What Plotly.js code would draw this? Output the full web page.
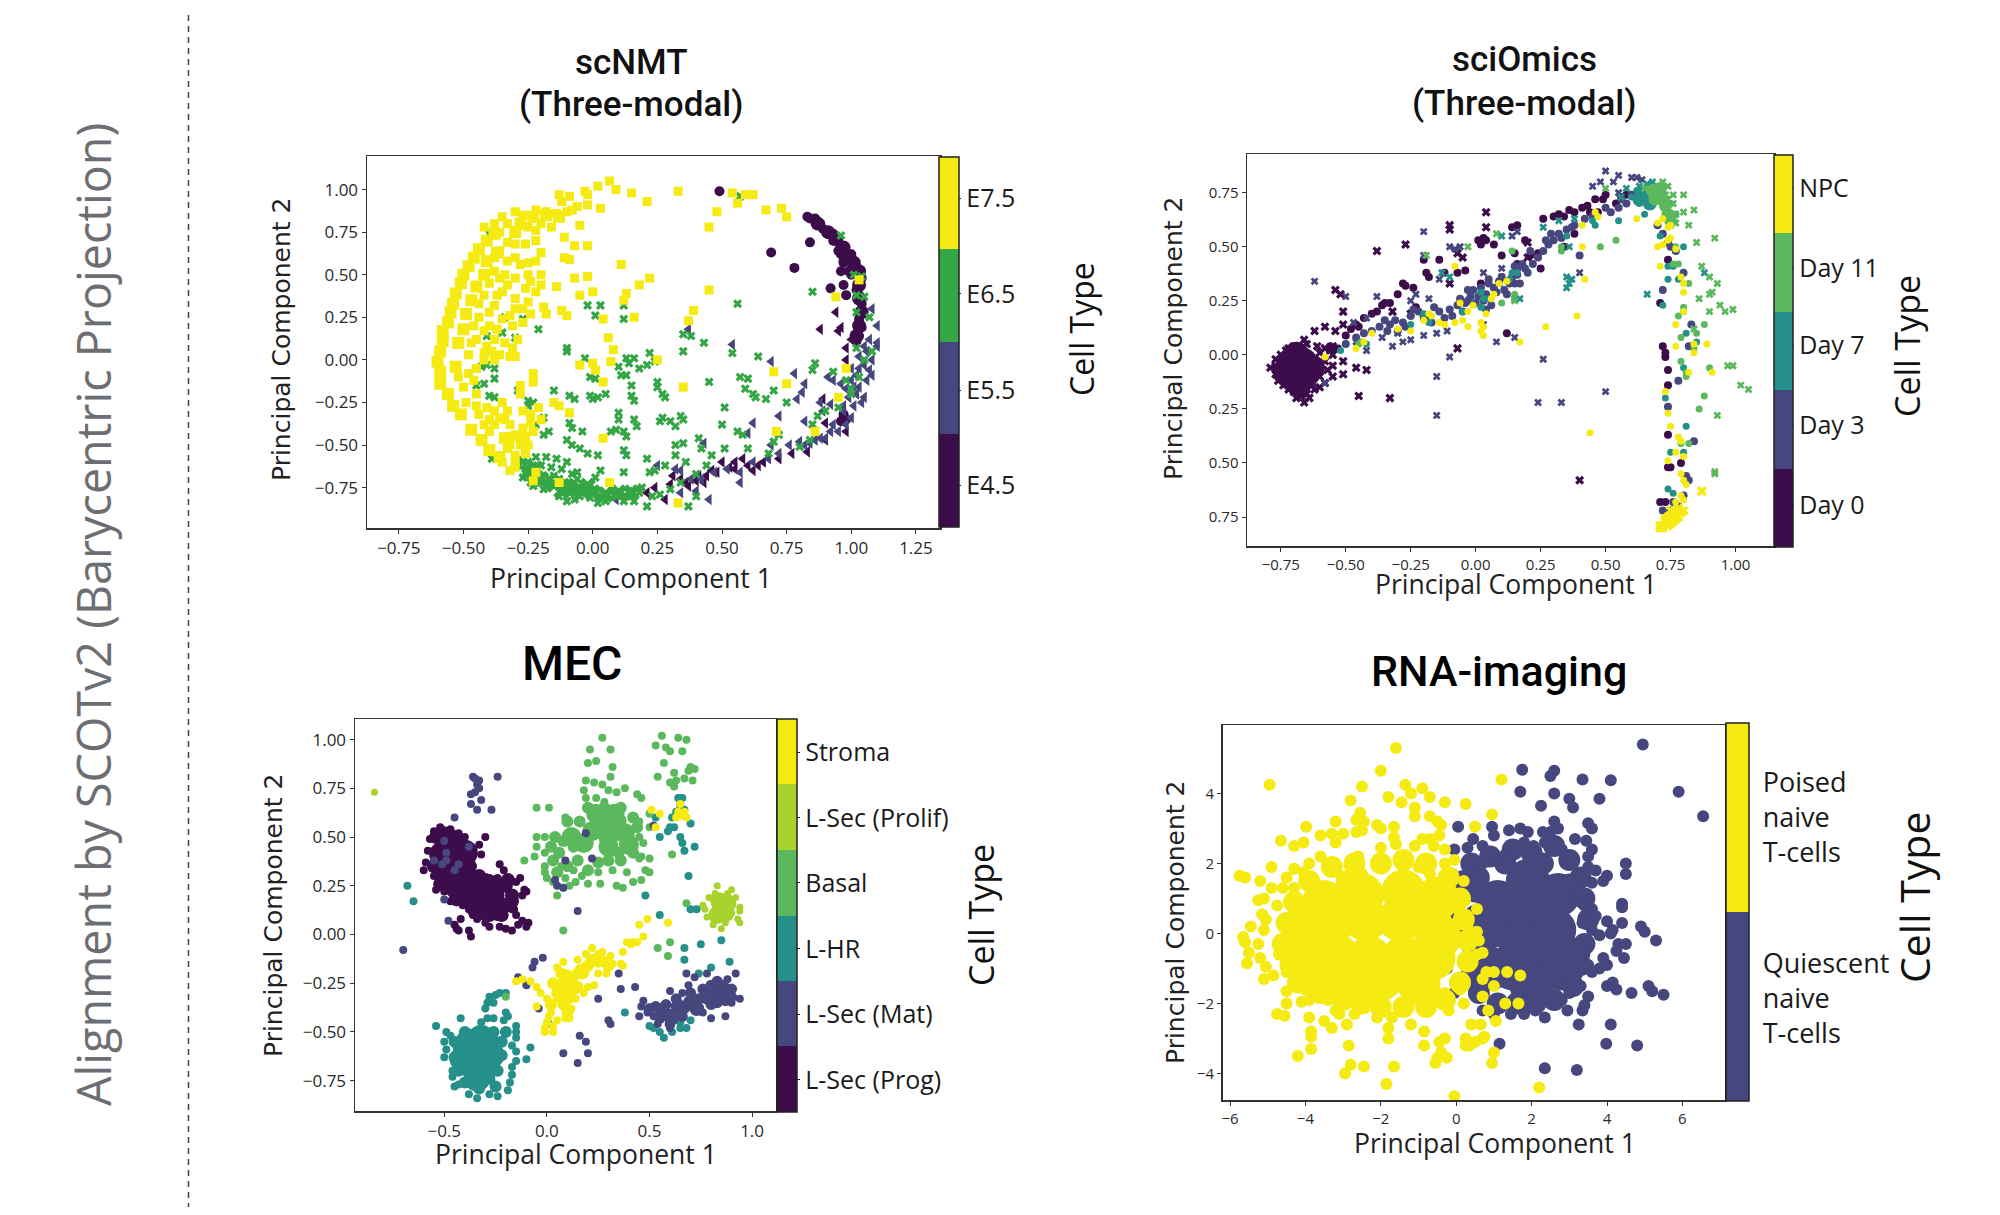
<!DOCTYPE html>
<html><head><meta charset="utf-8">
<script src="https://cdn.plot.ly/plotly-3.0.1.min.js"></script>
<style>html,body{margin:0;padding:0;background:#fff}</style></head>
<body><div id="chart" style="width:2000px;height:1215px"></div>
<script>
/* ---------- scNMT ---------- */
const nmtLabels = ["E4.5","E5.5","E6.5","E7.5"];
const nmtE75Dense = [[-.59,-.14],[-.59,-.07],[-.6,-.01],[-.59,.05],[-.58,.11],[-.58,.17],[-.56,.22],[-.55,.28],[-.54,.33],[-.53,.39],[-.51,.45],[-.5,.5],[-.48,.55],[-.46,.6],[-.44,.65],[-.41,.7],[-.38,.74],[-.52,.1],[-.5,.18],[-.49,.27],[-.47,.35],[-.45,.43],[-.42,.5],[-.41,.58],[-.37,.63],[-.53,-.04],[-.56,-.2],[-.54,-.27],[-.51,-.32],[-.47,-.41],[-.43,-.47],[-.4,-.53],[-.36,-.57],[-.34,-.46],[-.28,.8],[-.23,.84],[-.18,.85],[-.13,.84],[-.3,.75]];
const nmtE75 = [[.065,1.05],[.09,1],[.02,1.02],[-.03,.99],[.15,.98],[.33,.99],[.21,.93],[.03,.89],[-.02,.91],[-.08,.88],[-.09,.96],[-.12,.93],[-.05,.79],[-.11,.72],[-.07,.67],[-.02,.67],[-.11,.6],[-.09,.59],[.11,.56],[.54,.98],[.62,.97],[.59,.97],[.56,.92],[.48,.87],[.45,.78],[.67,.88],[.73,.89],[.75,.84],[.22,.48],[.18,.44],[.45,.41],[.39,.29],[.37,.23],[.13,.39],[.12,.35],[.16,.25],[.04,.24],[0,.4],[-.05,.38],[-.07,.48],[-.02,.49],[-.14,.43],[-.2,.44],[-.19,.31],[-.18,.27],[-.12,.29],[-.1,.26],[.06,.13],[.08,.06],[.07,-.01],[-.05,-.03],[0,-.02],[.01,-.06],[.04,-.13],[.25,0],[.35,-.16],[.7,-.07],[.75,-.14],[.98,-.05],[.95,-.22],[1.03,.47],[.94,.37],[.71,-.42],[.86,-.42],[.04,-.46],[-.09,-.31],[-.15,-.25],[-.13,-.27],[-.23,-.08],[-.23,-.13],[-.28,-.15],[-.28,-.2],[-.3,-.63],[-.22,-.66],[-.23,-.71],[-.13,-.72],[.065,-.72],[.33,-.84],[-.25,.57],[-.2,.63],[-.22,.58],[-.28,.56],[-.25,.5],[-.3,.6],[-.33,.58],[-.2,.5],[-.24,.46],[-.3,.48],[-.34,.5],[-.36,.48],[-.33,.44],[-.37,.38],[-.38,.32],[-.35,.4],[-.3,.36],[-.3,.3],[-.27,.3],[-.25,.34],[-.24,.27],[-.27,.22],[-.31,.2],[-.35,.24],[-.4,.28],[-.44,.25],[-.42,.17],[-.38,.12],[-.45,.12],[-.41,.08],[-.36,.03],[-.32,.02],[-.3,.02],[-.31,.07],[-.42,0],[-.48,-.08],[-.45,-.05],[-.38,.0],[-.42,.04],[-.5,-.16],[-.49,-.25],[-.45,-.27],[-.44,-.32],[-.41,-.28],[-.42,-.38],[-.35,-.25],[-.33,-.3],[-.32,-.38],[-.34,-.35],[-.27,-.3],[-.24,-.32],[-.24,-.37],[-.27,-.4],[-.3,-.44],[-.28,-.5],[-.32,-.5],[-.33,-.52],[-.3,-.56],[-.32,-.65],[-.42,.78],[-.38,.8],[-.35,.84],[-.3,.87],[-.27,.85],[-.22,.88],[-.18,.87],[-.14,.86],[-.1,.87],[-.06,.9],[-.02,.97],[-.13,.97],[-.36,.75],[-.33,.69],[-.38,.6],[-.36,.64],[-.3,.68],[-.4,.45],[-.38,.52],[-.42,.38],[-.44,.33],[-.46,.2],[-.47,.1],[-.48,.03],[-.46,-.12],[-.45,-.2],[-.52,-.1],[-.4,-.42],[-.38,-.38],[-.36,-.34],[-.38,-.3],[-.4,-.35],[-.31,-.45],[-.28,-.45],[-.35,-.6],[-.3,-.6],[-.4,.2],[-.37,.18],[-.34,.1],[-.39,.05],[-.25,.78],[-.22,.76],[-.2,.8],[-.16,.78],[-.33,.8],[-.26,.68],[-.22,.7],[-.26,.42],[-.22,.4],[-.32,.26],[-.29,.12],[-.26,-.45],[-.25,-.5],[-.26,-.55],[-.23,-.42],[-.2,-.35],[-.21,-.28]];
const nmtE65Dense = [[-.2,-.7],[-.15,-.73],[-.1,-.74],[-.05,-.76],[0,-.78],[.05,-.79],[.1,-.78],[.15,-.78],[-.25,-.66],[-.12,-.77],[-.02,-.74],[-.22,-.64]];
const nmtE65 = [[.57,.96],[-.4,.74],[.96,.73],[1.01,.5],[1.04,.49],[.85,.4],[1.02,.38],[1.05,.37],[.56,.33],[-.02,.32],[.03,.32],[.12,.32],[.01,.26],[.12,.24],[1.02,.28],[1.07,.25],[-.34,.25],[-.27,.24],[-.27,.22],[-.41,.14],[-.35,.16],[-.21,.18],[-.3,.13],[.35,.15],[.38,.14],[.43,.1],[.35,.05],[.54,.04],[.64,.02],[-.1,.07],[-.1,.05],[-.03,.01],[.22,.04],[.13,.01],[.16,.01],[.14,-.02],[.18,-.05],[.21,-.03],[.24,-.01],[.1,-.04],[-.41,-.03],[-.43,-.04],[-.38,-.05],[-.38,-.11],[-.42,-.14],[-.45,-.15],[-.4,-.21],[-.38,-.22],[-.29,-.18],[-.25,-.24],[-.23,-.25],[-.25,-.27],[-.15,-.18],[-.09,-.21],[-.07,-.23],[-.01,-.21],[0,-.23],[.02,-.22],[.05,-.2],[-.01,-.1],[.01,-.11],[.13,-.09],[.11,-.09],[.15,-.15],[.15,-.21],[.16,-.24],[.25,-.13],[.25,-.16],[.27,-.2],[.28,-.22],[.45,-.13],[.57,-.1],[.6,-.11],[.59,-.17],[.62,-.2],[.63,-.22],[.67,-.23],[.7,-.18],[.75,-.25],[.85,-.06],[.86,-.02],[.93,-.07],[1,-.17],[1,-.2],[.98,-.12],[1.03,-.1],[1.08,.05],[1.05,.0],[1.02,.07],[.95,-.28],[.9,-.3],[.87,-.33],[.85,-.38],[.51,-.28],[.5,-.38],[.56,-.42],[.58,-.44],[.35,-.35],[.34,-.33],[.27,-.34],[.26,-.36],[.3,-.36],[.32,-.39],[.1,-.31],[.1,-.35],[.16,-.35],[.17,-.39],[.09,-.41],[.12,-.42],[.07,-.42],[.13,-.45],[-.09,-.37],[-.08,-.4],[-.04,-.42],[-.17,-.42],[-.19,-.44],[-.22,-.38],[-.19,-.34],[.41,-.46],[.35,-.49],[.32,-.5],[.42,-.52],[.46,-.56],[.51,-.52],[.6,-.52],[.68,-.55],[.7,-.48],[.72,-.44],[.8,-.51],[.84,-.47],[-.37,-.56],[-.39,-.58],[-.1,-.47],[-.08,-.5],[-.05,-.52],[-.02,-.55],[.02,-.56],[.12,-.53],[.13,-.56],[.21,-.58],[.32,-.56],[.36,-.6],[.24,-.65],[.28,-.62],[.22,-.66],[.12,-.66],[.03,-.65],[.01,-.69],[-.06,-.66],[-.1,-.6],[-.14,-.58],[-.18,-.57],[-.22,-.57],[-.28,-.58],[-.26,-.64],[-.23,-.62],[-.2,-.62],[-.15,-.68],[-.27,-.69],[-.24,-.72],[-.2,-.72],[-.17,-.73],[-.15,-.74],[-.12,-.76],[-.11,-.72],[-.09,-.78],[-.07,-.76],[-.05,-.8],[-.04,-.75],[-.02,-.77],[-.01,-.81],[.01,-.76],[.03,-.8],[.05,-.79],[.05,-.83],[.08,-.77],[.09,-.8],[.11,-.78],[.12,-.83],[.14,-.77],[.15,-.8],[.17,-.76],[.18,-.78],[.21,-.86],[.23,-.8],[.26,-.79],[.3,-.76],[.37,-.86],[.4,-.8],[.34,-.72],[.4,-.67],[.44,-.62],[-.19,-.76],[-.23,-.74],[-.1,-.83],[-.06,-.7],[-.13,-.7],[-.09,-.72],[-.17,-.7],[-.29,-.62],[-.27,-.6],[-.25,-.6],[-.24,-.68],[-.16,-.63],[-.12,-.64],[-.08,-.67],[.19,-.75],[.16,-.83],[.02,-.84],[-.07,-.82],[-.13,-.8]];
const nmtE55 = [[.37,.18],[.54,.09],[.69,-.01],[.78,-.08],[1.08,.3],[1.1,.2],[1.1,.1],[1.07,.12],[1.1,.08],[1.06,.05],[1.03,.02],[1.08,.0],[1.05,-.03],[1.07,-.06],[1.03,-.05],[1.02,-.09],[1.08,-.09],[.91,-.1],[.93,-.12],[.96,-.14],[1,-.12],[1.01,-.16],[.98,-.17],[.99,-.22],[1.02,-.2],[1.05,-.22],[1.04,-.25],[1.01,-.27],[.97,-.27],[.92,-.26],[.88,-.25],[.82,-.14],[.81,-.19],[.79,-.23],[.89,-.3],[.93,-.38],[.98,-.38],[1,-.34],[.95,-.42],[.9,-.46],[.86,-.47],[.82,-.5],[.8,-.48],[.76,-.5],[.69,-.5],[.62,-.37],[.6,-.43],[.72,-.33],[.82,-.36],[.72,-.55],[.68,-.58],[.62,-.6],[.57,-.66],[.52,-.64],[.47,-.66],[.45,-.82],[.4,-.77],[.34,-.78],[.57,-.72],[.42,-.7],[.38,-.7],[.34,-.65],[.25,-.62],[.32,-.64],[.43,-.49],[.09,-.82],[.12,-.81],[.84,-.49],[.88,-.46],[.92,-.42],[.97,-.3],[1.0,-.05],[1.05,.08],[1.06,-.12],[1.03,-.16]];
const nmtE45Tri = [[.88,.18],[.95,.17],[.94,.28],[.96,.19],[.98,.07],[.98,.0],[1.0,.12],[.89,-.23],[.9,-.37],[.98,-.42],[.9,-.47],[.83,-.54],[.77,-.55],[.72,-.58],[.66,-.6],[.6,-.62],[.62,-.65],[.58,-.58],[.53,-.63],[.48,-.66],[.44,-.68],[.4,-.71],[.34,-.7],[.37,-.74],[.3,-.73],[.24,-.75],[.21,-.78],[.28,-.82],[.5,-.6],[.55,-.6],[.43,-.72],[.31,-.68],[.36,-.72],[.41,-.68],[.46,-.65],[.55,-.64],[.64,-.62]];
const nmtE45Mid = [[.87,.8],[.91,.75],[.94,.71],[.97,.66],[.99,.61],[1.01,.57],[1.03,.52],[1.03,.44],[1.03,.36],[1.04,.28],[1.03,.2],[1.02,.14]];
const nmtE45Dot = [[.49,.99],[.69,.63],[.84,.69],[.78,.54],[.92,.42],[.97,.44],[.96,.52],[.83,.84],[.84,.83],[.86,.83],[.88,.8],[.89,.77],[.91,.75],[.93,.74],[.93,.7],[.95,.69],[.96,.67],[.97,.66],[.96,.62],[.98,.63],[.99,.6],[.97,.58],[1,.57],[1.01,.55],[1.02,.54],[.99,.52],[1.03,.51],[1.04,.48],[1.03,.45],[1.02,.41],[1.03,.38],[1.04,.33],[1.04,.28],[1.03,.24],[1.04,.19],[1.03,.14],[1.02,.11],[.98,.38],[1.0,.5],[.97,.57],[.95,.64],[1,.62],[.97,-.32],[.96,-.36],[.98,-.35]];

/* ---------- sciOmics ---------- */
const sciLabels = ["Day 0","Day 3","Day 7","Day 11","NPC"];
const sciD0Dense = [[-.72,-.04],[-.7,-.09],[-.66,-.03],[-.65,-.09],[-.68,-.13],[-.63,-.06],[-.69,.0],[-.67,-.07],[-.73,-.08]];
const sciD0X = [[-.38,.48],[-.27,.51],[-.1,.6],[.04,.66],[.04,.59],[-.1,.58],[-.54,.3],[-.52,.28],[-.51,.2],[-.51,.14],[-.54,.11],[-.58,.13],[-.62,.11],[-.66,.07],[-.46,-.06],[-.42,-.07],[-.45,-.19],[-.33,-.2],[-.07,.03],[.4,-.58],[-.79,-.06],[-.77,-.02],[-.77,-.09],[-.75,.0],[-.76,-.12],[-.73,.02],[-.72,.03],[-.74,-.14],[-.72,-.16],[-.7,-.17],[-.69,-.2],[-.66,-.22],[-.67,-.19],[-.65,-.18],[-.64,-.2],[-.62,-.16],[-.6,-.15],[-.58,-.13],[-.55,-.1],[-.51,-.09],[-.51,-.03],[-.55,-.05],[-.58,-.03],[-.56,.02],[-.58,.03],[-.55,.04],[-.6,.01],[-.57,-.07],[-.63,-.13],[-.7,.04],[-.67,.03],[-.32,.2],[-.25,.19],[-.1,.33],[.2,.52],[.2,.45],[-.05,.45],[-.07,.47],[-.6,-.1],[-.61,.04],[-.65,.05],[-.75,-.1],[-.77,-.05],[-.71,-.14],[-.67,-.16],[-.55,.0]];
const sciD0Dot = [[.26,.63],[.16,.6],[.14,.59],[.38,.66],[.43,.69],[.32,.65],[.3,.64],[.03,.54],[.02,.51],[.07,.51],[.1,.46],[.19,.53],[-.04,.39],[-.19,.38],[-.27,.32],[-.28,.33],[-.35,.24],[-.33,.24],[-.4,.19],[-.46,.14],[-.48,.12],[-.5,.09],[-.56,.04],[-.55,.03],[-.53,.03],[.72,.04],[.73,.01],[.73,-.01],[.74,-.07],[.74,-.14],[.74,-.37],[.75,-.52],[.74,-.52],[.71,-.68],[.73,-.68],[.79,-.5],[.74,.44],[.71,.24],[.49,.72],[.46,.72],[.56,.73],[-.2,.44],[-.14,.44],[-.07,.38],[.12,.1],[.02,.33],[.21,.46],[.24,.47],[.25,.4],[.15,.47],[.16,.42],[-.2,.18],[-.23,.22],[.38,.56],[.34,.5],[.62,.72],[.47,.66],[-.45,.13],[-.43,.17],[-.38,.2],[-.36,.23],[-.3,.28],[-.24,.31],[-.18,.36],[-.12,.38],[.01,.53],[.04,.53],[.34,.64],[.36,.67],[.41,.68],[.44,.66],[.5,.74],[.54,.7],[.58,.74]];
const sciD3X = [[-.62,.34],[-.2,.57],[-.1,.5],[-.08,.49],[-.2,.46],[-.14,.35],[-.5,.27],[-.47,.15],[-.42,.17],[-.38,.27],[-.23,.28],[-.25,.25],[-.18,.26],[-.36,.08],[-.3,.1],[-.32,.04],[-.28,.06],[-.25,.07],[-.2,.09],[-.15,.1],[-.42,.02],[-.46,.06],[-.58,-.13],[-.11,.11],[-.1,-.01],[-.15,-.1],[.08,.06],[.15,.08],[.26,-.02],[.24,-.22],[.33,-.22],[.5,-.17],[-.15,-.28],[.03,.14],[-.06,.5],[.14,.55],[.16,.57],[.4,.38],[.1,.36],[.1,.4],[.09,.33],[.5,.85],[.48,.8],[.53,.8],[.55,.83],[.6,.82],[.62,.82],[.55,.75],[.45,.78],[.64,.81],[.02,.3],[.03,.38]];
const sciD3Dot = [[-.5,.05],[-.46,.08],[-.43,.1],[-.4,.11],[-.37,.13],[-.35,.16],[-.33,.14],[-.3,.11],[-.28,.15],[-.25,.18],[-.22,.2],[-.2,.17],[-.17,.15],[-.14,.2],[-.12,.17],[-.1,.21],[-.07,.23],[-.05,.2],[-.03,.25],[-.01,.3],[.01,.27],[.03,.25],[.04,.21],[.06,.23],[.07,.31],[.09,.34],[.11,.3],[.12,.28],[.14,.36],[.15,.33],[.17,.33],[.16,.37],[.18,.42],[.2,.38],[.22,.42],[.24,.45],[.26,.48],[.28,.51],[.3,.53],[.32,.56],[.35,.58],[.38,.6],[.15,.41],[.4,.46],[.55,.68],[.58,.7],[.6,.74],[.63,.71],[.45,.64],[.52,.66],[.7,.6],[.72,.56],[.74,.52],[.75,.5],[.77,.48],[.8,.38],[.72,.3],[.82,.04],[.83,.14],[.78,-.12],[.74,-.24],[.84,-.4],[.82,-.58],[.81,-.56],[.8,-.65],[.78,-.7],[.76,-.68],[.72,-.72],[.75,-.72],[-.03,.3],[-.04,.24],[.05,.33],[-.34,.11],[-.31,.16],[-.27,.13],[-.24,.21],[-.18,.18],[-.16,.22],[-.09,.18],[-.06,.26],[-.02,.27],[0,.24],[.02,.31],[.04,.28],[.05,.35],[.08,.29],[.1,.36],[.13,.33],[.16,.4],[.19,.4],[.21,.48],[.27,.53],[.29,.56],[.33,.54],[.37,.59],[.42,.63],[.5,.68],[.56,.72],[.62,.75],[.68,.76],[.64,.76]];
const sciD7Dense = [[.65,.74],[.67,.7],[.63,.72]];
const sciD7Dot = [[-.52,.02],[-.42,.05],[-.25,.14],[-.18,.15],[-.05,.2],[.02,.22],[.03,.26],[.13,.35],[.16,.38],[.35,.55],[.45,.62],[.46,.6],[.55,.62],[.63,.7],[.65,.72],[.68,.74],[.62,.76],[.7,.76],[.72,.73],[.75,.7],[.77,.65],[.67,.7],[.6,.73],[.65,.65],[.76,.41],[.74,.41],[.78,.35],[.74,.35],[.72,.23],[.8,.2],[.81,.1],[.85,.06],[.8,-.06],[.81,-.33],[.75,-.45],[.8,-.45],[.73,-.2],[.74,-.62],[.76,-.64],[.71,.55],[.8,.5],[.66,.75],[.64,.73],[.68,.71],[.7,.73],[.72,.76],[.66,.78],[.05,.26],[.02,.29],[-.2,.19],[.14,.38]];
const sciD7X = [[-.1,.36],[-.13,.38],[.15,.26],[.17,.26],[.35,.36],[.37,.35],[.36,.33],[.35,.31],[.63,.78],[.66,.79],[.68,.8],[.58,.77],[.66,.74],[.7,.78],[.66,.72],[.56,.73],[.38,.63],[.26,.59],[.32,.62],[.36,.5],[.88,.38],[.1,.55],[.66,.28]];
const sciD11Dense = [[.7,.75],[.72,.72],[.73,.69],[.74,.65],[.69,.72],[.71,.77],[.75,.62],[.68,.76]];
const sciD11X = [[.72,.8],[.74,.78],[.7,.78],[.68,.75],[.7,.72],[.72,.7],[.74,.72],[.76,.7],[.73,.66],[.75,.63],[.77,.65],[.77,.61],[.75,.6],[.8,.66],[.84,.67],[.8,.74],[.82,.6],[.71,.75],[.76,.74],[.73,.74],[.69,.77],[.92,.54],[.87,.41],[.85,.52],[.9,.36],[.93,.33],[.91,.29],[.9,.28],[.86,.26],[.94,.23],[.96,.2],[.99,.21],[.9,.2],[.84,.12],[.97,-.05],[.99,-.05],[1.02,-.14],[1.05,-.16],[.93,-.28],[.92,-.55],[.92,-.54],[.5,.77],[.15,.25],[-.19,.46],[-.03,.5],[.08,.56],[.65,.77]];
const sciD11Dot = [[-.44,.06],[-.45,.05],[.15,.28],[.1,.24],[.33,.48],[.33,.5],[.14,.48],[.48,.5],[.54,.53],[.77,.5],[.78,.42],[.82,.33],[.76,.42],[.8,.22],[.78,.18],[.88,.14],[.85,.1],[.79,.08],[.84,.03],[.79,-.03],[.9,-.06],[.81,-.1],[.88,-.19],[.86,-.25],[.79,-.41],[.82,-.41],[.81,-.08]];
const sciNpcX = [[.87,-.63],[.71,-.8],[.72,-.79],[.73,-.77],[.74,-.75],[.75,-.78],[.76,-.74],[.77,-.72],[.78,-.71],[.79,-.73],[.74,-.79],[.72,-.8],[.76,-.77],[.78,-.75],[.75,-.72],[.73,-.76],[.71,-.79],[.77,-.76],[.8,-.72],[.75,-.76],[.74,-.77]];
const sciNpcDot = [[-.58,-.01],[-.46,.03],[-.43,.06],[-.4,.1],[-.3,.12],[-.25,.11],[-.2,.16],[-.18,.19],[-.17,.18],[-.14,.15],[-.12,.14],[-.08,.15],[-.05,.16],[-.03,.13],[.02,.11],[.03,.13],[.02,.15],[.03,.09],[.17,.06],[.27,.13],[.39,.18],[.44,-.36],[-.08,.41],[-.06,.24],[-.03,.2],[-.01,.23],[.04,.19],[.09,.33],[.12,.34],[.06,.26],[.07,.28],[.42,.35],[.41,.5],[.41,.6],[.47,.64],[.46,.66],[.62,.63],[.7,.61],[.72,.63],[.74,.59],[.75,.6],[.74,.53],[.75,.54],[.77,.49],[.7,.5],[.72,.51],[.71,.41],[.79,.36],[.8,.33],[.8,.29],[.8,.2],[.77,.14],[.77,.04],[.84,.05],[.84,.01],[.89,.05],[.82,-.08],[.91,-.08],[.73,-.17],[.74,-.27],[.75,-.33],[.78,-.38],[.79,-.4],[.77,-.45],[.74,-.49],[.8,-.47],[.79,-.55],[.8,-.58],[.81,-.6],[.8,-.67],[.79,-.65],[.77,-.68]];

/* ---------- MEC ---------- */
const mecLabels = ["L-Sec (Prog)","L-Sec (Mat)","L-HR","Basal","L-Sec (Prolif)","Stroma"];
const mecProgDense = [[-.47,.46],[-.45,.38],[-.48,.33],[-.42,.31],[-.43,.24],[-.38,.22],[-.33,.2],[-.27,.2],[-.25,.14],[-.33,.14],[-.4,.42],[-.51,.41]];
const mecProgMid = [[-.54,.5],[-.5,.52],[-.45,.5],[-.42,.46],[-.54,.42],[-.55,.35],[-.5,.3],[-.52,.26],[-.47,.24],[-.44,.18],[-.38,.17],[-.4,.28],[-.36,.3],[-.33,.3],[-.3,.28],[-.25,.27],[-.2,.25],[-.17,.2],[-.2,.15],[-.22,.1],[-.28,.1],[-.33,.12],[-.19,.28],[-.38,.36],[-.25,.22],[-.29,.17],[-.17,.17]];
const mecProg = [[-.57,.49],[-.55,.53],[-.52,.55],[-.47,.54],[-.43,.52],[-.4,.5],[-.58,.43],[-.59,.37],[-.6,.33],[-.55,.3],[-.54,.23],[-.5,.22],[-.47,.17],[-.41,.15],[-.38,.13],[-.42,.08],[-.45,.05],[-.43,.02],[-.44,.03],[-.38,.02],[-.37,-.01],[-.34,.08],[-.3,.06],[-.28,.04],[-.23,.04],[-.2,.03],[-.17,.02],[-.14,.05],[-.1,.04],[-.09,.06],[-.12,.07],[-.15,.1],[-.17,.13],[-.21,.12],[-.24,.09],[-.12,.2],[-.11,.23],[-.1,.22],[-.13,.29],[-.15,.27],[-.21,.33],[-.23,.36],[-.24,.29],[-.28,.29],[-.32,.41],[-.33,.46],[-.3,.5],[-.36,.35],[-.16,.13],[-.3,.12],[-.36,.1]];
const mecMatDense = [[.83,-.3],[.87,-.29],[.78,-.32],[.7,-.35],[.64,-.37],[.56,-.39],[.6,-.42],[.73,-.38]];
const mecMatMid = [[.5,-.38],[.53,-.37],[.58,-.36],[.63,-.33],[.67,-.38],[.7,-.3],[.74,-.33],[.76,-.28],[.8,-.26],[.83,-.24],[.86,-.26],[.9,-.28],[.9,-.32],[.87,-.34],[.83,-.35],[.8,-.36],[.66,-.42],[.6,-.46],[.55,-.43]];
const mecMat = [[-.36,.81],[-.34,.77],[-.33,.79],[-.35,.8],[-.33,.75],[-.37,.72],[-.35,.73],[-.32,.69],[-.37,.67],[-.34,.64],[-.27,.64],[-.24,.81],[-.45,.6],[-.7,-.08],[-.48,.07],[-.5,.18],[-.51,.36],[-.55,.38],[-.49,.38],[-.49,.42],[-.5,.48],[-.43,.36],[-.45,.33],[-.38,.45],[.04,.28],[.05,.25],[.08,.24],[.09,.38],[.22,.39],[.19,.52],[.15,.12],[-.02,-.12],[-.06,-.14],[-.07,-.17],[-.14,-.22],[-.1,-.26],[-.04,-.38],[.1,-.38],[.25,-.33],[.35,-.2],[.36,-.28],[.43,-.27],[.3,-.44],[.31,-.46],[.16,-.52],[.19,-.55],[.08,-.61],[.2,-.61],[.15,-.66],[.45,-.42],[.47,-.34],[.46,-.37],[.49,-.4],[.52,-.42],[.54,-.46],[.6,-.48],[.62,-.44],[.6,-.29],[.66,-.3],[.69,-.26],[.68,-.2],[.72,-.22],[.78,-.2],[.76,-.4],[.8,-.43],[.87,-.42],[.92,-.2],[.94,-.33],[.9,-.35],[.88,-.23],[.52,.56]];
const mecHrDense = [[-.36,-.6],[-.31,-.63],[-.37,-.67],[-.33,-.7],[-.29,-.56],[-.32,-.53],[-.38,-.55],[-.27,-.62],[-.41,-.64],[-.34,-.74],[-.3,-.68]];
const mecHrMid = [[-.45,-.55],[-.45,-.63],[-.43,-.7],[-.4,-.76],[-.33,-.79],[-.28,-.74],[-.24,-.7],[-.22,-.62],[-.22,-.55],[-.26,-.5],[-.33,-.5],[-.4,-.5],[-.43,-.58],[-.2,-.5],[-.25,-.78],[-.4,-.62]];
const mecHr = [[-.68,.25],[-.65,.17],[-.2,-.3],[-.25,-.31],[-.23,-.3],[-.28,-.32],[-.29,-.35],[-.3,-.38],[-.26,-.35],[-.2,-.4],[-.19,-.42],[-.21,-.44],[-.26,-.43],[-.29,-.43],[-.32,-.45],[-.42,-.43],[-.54,-.47],[-.49,-.5],[-.47,-.52],[-.5,-.55],[-.49,-.59],[-.5,-.63],[-.46,-.7],[-.46,-.73],[-.45,-.78],[-.43,-.77],[-.38,-.82],[-.34,-.84],[-.28,-.82],[-.24,-.83],[-.19,-.8],[-.18,-.76],[-.17,-.72],[-.17,-.68],[-.15,-.65],[-.15,-.6],[-.1,-.64],[-.15,-.53],[-.15,-.5],[-.15,-.47],[-.17,-.57],[-.08,-.58],[.01,-.46],[.38,-.4],[.52,-.48],[.55,-.5],[.57,-.53],[.61,-.5],[.65,-.48],[.68,-.48],[.7,-.44],[.65,-.45],[.5,-.47],[.74,-.2],[.8,-.17],[.89,-.14],[.85,-.03],[.75,-.05],[.67,-.07],[.67,-.13],[.55,.1],[.48,.2],[.69,.3],[.55,.5],[.59,.53],[.6,.55],[.61,.6],[.53,.6],[.64,.7],[.66,.7],[.65,.66],[.63,.63],[.67,.64],[.7,.57],[.65,.5],[.66,.47],[.67,.43],[.72,.45],[.7,.13],[.73,.13],[.62,.55],[.65,.67]];
const mecBasalDense = [[.28,.57],[.34,.58],[.22,.53],[.38,.52],[.3,.5],[.3,.45],[.18,.47],[.12,.5],[.4,.46],[.24,.62],[.33,.62]];
const mecBasalMid = [[.02,.45],[.03,.38],[.05,.32],[.1,.35],[.15,.38],[.2,.33],[.25,.37],[.3,.38],[.36,.38],[.42,.42],[.35,.42],[.16,.58],[.2,.65],[.28,.65],[.36,.65],[.42,.6],[.44,.55],[.08,.48],[.04,.5],[.1,.58],[.13,.45],[.06,.42]];
const mecBasal = [[.27,1.01],[.21,.95],[.31,.95],[.24,.89],[.2,.88],[.32,.86],[.56,1.02],[.53,.97],[.58,.96],[.6,.94],[.64,1.01],[.68,1],[.66,.94],[.57,.88],[.7,.86],[.72,.85],[.69,.84],[.62,.83],[.54,.81],[.6,.78],[.63,.79],[.67,.8],[.71,.79],[.62,.76],[.31,.81],[.19,.79],[.23,.78],[.27,.77],[.3,.74],[.34,.73],[.38,.75],[.44,.72],[.46,.7],[.5,.62],[.18,.74],[.19,.7],[.24,.7],[.28,.68],[-.05,.65],[.01,.65],[.09,.6],[-.01,.5],[-.05,.5],[-.05,.45],[-.06,.4],[-.01,.42],[-.01,.35],[-.01,.32],[.0,.29],[.03,.27],[.09,.29],[.11,.25],[.14,.27],[.17,.3],[.2,.26],[.26,.26],[.34,.25],[.37,.24],[.42,.27],[.46,.28],[.48,.33],[.5,.32],[.45,.39],[.46,.4],[.5,.39],[.47,.47],[.5,.55],[.05,.2],[-.11,.38],[.08,.24],[.07,.35],[.13,.33],[.25,.32],[.32,.33],[.39,.32],[.45,.58],[.45,.5],[.54,-.07],[.59,-.11],[.6,-.04],[.68,.16],[.61,.41],[.08,.02],[-.2,-.32]];
const mecProlifDense = [[.85,.13],[.84,.17],[.87,.11],[.83,.1],[.88,.16]];
const mecProlif = [[-.84,.73],[.83,.25],[.9,.23],[.92,.19],[.94,.14],[.94,.12],[.93,.08],[.85,.03],[.81,.05],[.78,.09],[.77,.13],[.76,.15],[.79,.19],[.82,.21],[.88,.21],[.87,.06],[.94,.06],[.83,.09],[.9,.11]];
const mecStromaDense = [[.09,-.25],[.1,-.32],[.17,-.19],[.13,-.27]];
const mecStromaMid = [[.05,-.3],[.08,-.26],[.12,-.22],[.15,-.2],[.2,-.16],[.22,-.13],[.25,-.14],[.03,-.25],[.08,-.36],[.1,-.4],[.15,-.27],[.07,-.2],[.28,-.14],[.3,-.16],[.02,-.36]];
const mecStroma = [[-.15,-.24],[-.12,-.23],[-.08,-.24],[-.05,-.27],[-.03,-.3],[0,-.33],[.02,-.4],[-.05,-.37],[0,-.45],[.01,-.42],[.05,-.44],[.09,-.43],[.11,-.43],[.12,-.38],[.05,-.33],[.14,-.33],[.1,-.2],[.05,-.17],[.08,-.14],[.15,-.13],[.19,-.1],[.22,-.07],[.25,-.1],[.27,-.09],[.31,-.11],[.32,-.15],[.29,-.2],[.25,-.2],[.23,-.26],[.2,-.27],[.18,-.3],[.36,-.15],[.37,-.16],[.37,-.09],[.39,-.04],[.41,-.05],[.42,-.04],[.44,-.04],[.47,-.01],[.45,.05],[.49,.08],[.59,.06],[.55,.62],[.51,.64],[.53,.55],[.63,.6],[.64,.63],[.66,.61],[.67,.63],[.65,.67],[.68,.6],[-.01,-.48],[.03,-.47],[-.01,-.5],[.03,-.5]];

/* ---------- RNA-imaging ---------- */
const rnaLabels = ["Quiescent<br>naive<br>T-cells","Poised<br>naive<br>T-cells"];
const rnaQuiDense = [[1.6,.6],[1.7,-.3],[2.3,.9],[2.4,-.5],[1.5,-1],[1.9,1.5],[2.6,.1],[.9,.2],[1.1,.9],[2.8,-1],[2.7,1.1],[2,-1.5],[.9,-1]];
const rnaQuiMid = [[.4,2],[.9,2.2],[1.5,2.4],[2,2.3],[2.6,2.5],[3,2.1],[3.3,1.6],[3.4,1],[3.5,.4],[3.4,-.3],[3.3,-.9],[3.1,-1.5],[2.6,-1.9],[2.1,-2],[1.6,-2],[1.1,-2],[.6,-1.7],[.4,-1.2],[.5,.5],[.5,1.2],[.2,1.5],[.4,-.3],[1.3,2],[2.3,2],[3,1.4],[3,-.4],[.6,1.6]];
const rnaQui = [[4.95,5.4],[1.75,4.68],[2.6,4.65],[2.5,4.5],[3.35,4.4],[4.1,4.38],[1.7,4.05],[2.6,4],[5.9,4.05],[3,3.85],[3.8,3.85],[2.25,3.65],[3.1,3.6],[6.55,3.35],[2.6,3.2],[2.7,3],[3.5,3.15],[3.6,3],[.05,3.05],[.95,3.05],[1,2.8],[1.4,2.95],[1.7,3],[1.9,2.9],[2.3,2.9],[2.5,2.9],[3.15,2.7],[3.45,2.65],[.45,2.7],[1.8,2.6],[1.5,2.5],[.7,2.5],[1.3,2.25],[2.05,2.5],[2.35,2.6],[2.6,2.6],[2.8,2.4],[3.6,2.4],[3.5,2.2],[-.05,2.4],[.3,2.45],[.45,2.05],[.7,2],[1.1,2.1],[1.2,1.9],[2.9,2],[3.1,2.05],[3.5,1.9],[3.7,1.8],[4.5,2],[4.5,1.7],[4,1.65],[3.9,1.5],[3.6,1.45],[3.3,1.2],[3.05,1.4],[3,.8],[3.4,.8],[3.6,.7],[3.7,.5],[4.4,.85],[4.4,.75],[4.4,.3],[4,.35],[4.1,0],[4.15,.1],[4.9,.2],[5,.05],[5.3,-.2],[3.6,.1],[3.8,-.05],[3.35,.3],[3.5,-.3],[3.4,-.6],[4.3,-.3],[4.25,-.5],[4.5,-.3],[4.45,-.7],[3.9,-.7],[4,-.9],[3.8,-1],[3.6,-1.1],[3.5,-.9],[3.1,-1.2],[3.3,-1.5],[3,-1.7],[3.5,-1.8],[4,-1.5],[4.15,-1.4],[4.25,-1.6],[4.65,-1.7],[5.1,-1.5],[5.2,-1.65],[5.5,-1.75],[3.4,-2.05],[3.35,-2.2],[2.95,-2.2],[2.35,-2.4],[2.1,-2.2],[1.8,-2.3],[1.45,-2.3],[1,-2.3],[.7,-2.2],[2.5,-2],[2.8,-1.9],[3.25,-2.6],[4.1,-2.6],[1.15,-3.15],[3.98,-3.15],[4.8,-3.2],[2.35,-3.85],[3.2,-3.9],[-.1,1.7],[.15,.9],[-.1,.5],[.2,0],[-.4,-.5],[-.25,-1],[-.05,-1.7],[.1,-1.3]];
const rnaPoiDense = [[-3.3,.3],[-2.4,.4],[-1.5,.4],[-.7,.3],[-3.2,-.6],[-2.3,-.7],[-1.4,-.7],[-.6,-.7],[-2.5,1.1],[-1.4,1.2],[-2,-1.3],[-1,-1.4],[-3.5,.9],[-3.5,-1.1],[-3.9,.1],[-3.9,-.6],[-.5,1],[-.45,-.1],[-2.9,-1.4]];
const rnaPoiMid = [[-4.5,.3],[-4.6,-.3],[-4.4,-.9],[-4.2,-1.4],[-3.6,-1.7],[-3,-1.9],[-2.5,-2],[-2,-2.1],[-1.4,-2.1],[-.8,-2.1],[-.3,-1.9],[.1,-1.4],[.3,-.8],[.3,-.2],[.2,.4],[.1,1],[-.2,1.6],[-.8,2],[-1.4,2.1],[-2,2],[-2.7,2],[-3.3,1.9],[-3.9,1.5],[-4.3,.9],[-2.9,1.5],[-.7,-1.6]];
const rnaPoi = [[-1.6,5.3],[-2,4.65],[-4.95,4.25],[-2.5,4.2],[-1.35,4.25],[-.9,4.15],[1.2,4.4],[-1.2,4],[-1.8,3.9],[-.7,3.9],[-2.8,3.8],[-1.45,3.75],[-.3,3.75],[.25,3.7],[-1.1,3.6],[.95,3.4],[-2.55,3.45],[-1.1,3.35],[-.7,3.35],[-2.65,3.25],[-2.45,3.2],[-3.2,3.2],[-.5,3.2],[-.4,3.1],[-3.98,3.05],[-2.1,3.1],[-2,3],[-1.65,3.05],[.5,3.05],[-2.65,2.9],[-2.5,2.95],[-3.3,2.85],[-3.6,2.8],[-3,2.85],[-3.2,2.6],[-1.65,2.75],[-1.6,2.55],[-.45,2.8],[-.9,2.7],[-.7,2.7],[-1.1,2.5],[-.6,2.5],[-.3,2.4],[-4.65,2.65],[-4.05,2.6],[-4.3,2.5],[-2,2.45],[-2.6,2.2],[-2.8,2],[-3.6,2.2],[-3.9,2],[-3.2,1.8],[-4.05,1.75],[-.3,2],[-.05,2.1],[-.2,1.5],[-5.75,1.65],[-5.6,1.6],[-4.9,1.9],[-5.2,1.5],[-4.5,1.6],[-4.3,1.85],[-4.9,1.3],[-4.6,1.3],[-5.25,.95],[-5.1,1],[-4.75,.8],[-4.3,1.3],[-5.15,.55],[-5.05,.4],[-5.45,.2],[-5.1,.1],[-5.65,-.1],[-5.6,-.25],[-5.25,-.3],[-5.5,-.55],[-5.55,-.85],[-5.2,-.7],[-4.7,-.6],[-5.05,-.95],[-5.1,-1.3],[-4.85,-1.2],[-4.5,-1.1],[-4.5,-1.65],[-4.5,-2],[-4.75,-2.3],[-4.55,-2.35],[-4.1,-1.95],[-3.9,-1.9],[-3.9,-2.4],[-3.85,-2.8],[-3.85,-2.95],[-3.85,-3.3],[-4.2,-3.5],[-3.5,-2.5],[-3.3,-2.7],[-3.1,-2.3],[-2.9,-2.6],[-2.7,-2.3],[-2.25,-1.9],[-2.1,-2.4],[-1.8,-2.7],[-1.8,-3],[-1.7,-2.4],[-1.2,-2.6],[-.85,-2.8],[-.85,-3.2],[-.45,-3.1],[-.3,-3],[-.4,-3.4],[-.5,-3.55],[-.25,-3.55],[-.55,-3.7],[-2.85,-3.2],[-2.8,-3.75],[-2.45,-3.8],[-1.65,-3.8],[-2.95,-4],[-1.85,-4.3],[-.05,-4.65],[2.2,-4.4],[.95,-3.7],[1,-3.4],[.25,-3],[.35,-3.2],[.5,-3.1],[.7,-3],[.75,-2.95],[.25,-3.2],[.65,-2.6],[1.05,-2.5],[.85,-2.2],[1.3,-2],[1.35,-1.1],[1,-1.1],[.8,-1.1],[.7,-1.3],[1,-1.5],[.7,-1.8],[.2,-2],[.1,-1.6],[-.2,-2.2],[.4,-2.6],[.55,-.6],[.6,-.2],[.55,.05],[.3,.2],[.1,.6],[.55,.7],[-.1,1],[.2,1.5],[-.2,.3],[-.1,-.1],[-.3,-.9],[-.3,-1.7],[-4.3,-.2],[-4.3,.5],[-4,-1.6],[-3.4,-1.9],[-3.2,-2.2],[-1,-1.9],[-.5,-1.8],[-2.5,1.7],[-1.9,1.9],[-1.4,2],[-1,1.9],[-.7,1.7],[-3,1.5],[-.4,1],[.7,-.55],[1.7,-1.2],[1.65,-2]];

/* ---------- text ---------- */
const sideTitle = "Alignment by SCOTv2 (Barycentric Projection)";
const panelTitles = ["scNMT","(Three-modal)","sciOmics","(Three-modal)","MEC","RNA-imaging"];
const xName = "Principal Component 1", yName = "Principal Component 2", cbName = "Cell Type";

const cPurple="#3d0d4b", cSlate="#47477f", cTeal="#25908a", cGreen="#35a645", cLime="#5cb85c", cOlive="#a8d22c", cYellow="#f5eb12";
const W=2000,H=1215;
const px=v=>v/W, py=v=>1-v/H;
const xs=a=>a.map(p=>p[0]), ys=a=>a.map(p=>p[1]);
function pts(data,sub,color,symbol,size,name){
  return {type:"scatter",mode:"markers",x:xs(data),y:ys(data),xaxis:"x"+sub,yaxis:"y"+sub,name:name,showlegend:false,hoverinfo:"skip",
    marker:{color:color,symbol:symbol,size:size,line:{width:0}}};
}
function steps(cols){const s=[];cols.forEach((c,i)=>{s.push([i/cols.length,c]);s.push([(i+1)/cols.length,c]);});return s;}
function cbar(sub,cols,tv,labels,box,fs,ticklen,tickcol){
  return {type:"scatter",mode:"markers",x:[null],y:[null],xaxis:"x"+sub,yaxis:"y"+sub,showlegend:false,hoverinfo:"skip",
    marker:{color:[0],cmin:0,cmax:cols.length,colorscale:steps(cols),showscale:true,
      colorbar:{x:px(box[0]),xanchor:"left",y:py(box[3]),yanchor:"bottom",len:(box[3]-box[2])/H,lenmode:"fraction",
        thickness:box[1]-box[0],thicknessmode:"pixels",xpad:0,ypad:0,outlinewidth:1.5,outlinecolor:"#222",
        tickmode:"array",tickvals:tv,ticktext:labels,ticks:"outside",ticklen:ticklen,tickwidth:1,tickcolor:tickcol,
        tickfont:{family:"Open Sans",size:fs,color:"#1a1a1a"}}}};
}
const traces=[
 pts(nmtE45Mid,"",cPurple,"circle",14,"E4.5"),
 pts(nmtE45Dot,"",cPurple,"circle",10,"E4.5"),
 pts(nmtE45Tri,"",cPurple,"triangle-left",10,"E4.5"),
 pts(nmtE55,"",cSlate,"triangle-left",10,"E5.5"),
 pts(nmtE65Dense,"",cGreen,"x",15,"E6.5"),
 pts(nmtE65,"",cGreen,"x",8,"E6.5"),
 pts(nmtE75Dense,"",cYellow,"square",12,"E7.5"),
 pts(nmtE75,"",cYellow,"square",9,"E7.5"),
 cbar("",[cPurple,cSlate,cGreen,cYellow],[.45,1.48,2.52,3.55],nmtLabels,[939,959,157,527],25,2,"#222"),

 pts(sciD0Dense,"2",cPurple,"circle",26,"Day 0"),
 pts(sciD0X,"2",cPurple,"x",8,"Day 0"),
 pts(sciD0Dot,"2",cPurple,"circle",8,"Day 0"),
 pts(sciD3X,"2",cSlate,"x",7,"Day 3"),
 pts(sciD3Dot,"2",cSlate,"circle",8,"Day 3"),
 pts(sciD7Dense,"2",cTeal,"circle",14,"Day 7"),
 pts(sciD7X,"2",cTeal,"x",7,"Day 7"),
 pts(sciD7Dot,"2",cTeal,"circle",7,"Day 7"),
 pts(sciD11Dense,"2",cLime,"circle",13,"Day 11"),
 pts(sciD11X,"2",cLime,"x",7,"Day 11"),
 pts(sciD11Dot,"2",cLime,"circle",7,"Day 11"),
 pts(sciNpcDot,"2",cYellow,"circle",7,"NPC"),
 pts(sciNpcX,"2",cYellow,"x",9,"NPC"),
 cbar("2",[cPurple,cSlate,cTeal,cLime,cYellow],[.53,1.55,2.57,3.55,4.57],sciLabels,[1774,1793,155,547],25,1,"#222"),

 pts(mecProgDense,"3",cPurple,"circle",26,"L-Sec (Prog)"),
 pts(mecProgMid,"3",cPurple,"circle",14,"L-Sec (Prog)"),
 pts(mecProg,"3",cPurple,"circle",8,"L-Sec (Prog)"),
 pts(mecHrDense,"3",cTeal,"circle",26,"L-HR"),
 pts(mecHrMid,"3",cTeal,"circle",12,"L-HR"),
 pts(mecHr,"3",cTeal,"circle",8,"L-HR"),
 pts(mecBasalDense,"3",cLime,"circle",20,"Basal"),
 pts(mecBasalMid,"3",cLime,"circle",12,"Basal"),
 pts(mecBasal,"3",cLime,"circle",8,"Basal"),
 pts(mecMatDense,"3",cSlate,"circle",15,"L-Sec (Mat)"),
 pts(mecMatMid,"3",cSlate,"circle",11,"L-Sec (Mat)"),
 pts(mecMat,"3",cSlate,"circle",8,"L-Sec (Mat)"),
 pts(mecProlifDense,"3",cOlive,"circle",18,"L-Sec (Prolif)"),
 pts(mecProlif,"3",cOlive,"circle",7,"L-Sec (Prolif)"),
 pts(mecStromaDense,"3",cYellow,"circle",16,"Stroma"),
 pts(mecStromaMid,"3",cYellow,"circle",12,"Stroma"),
 pts(mecStroma,"3",cYellow,"circle",8,"Stroma"),
 cbar("3",[cPurple,cSlate,cTeal,cLime,cOlive,cYellow],[.49,1.49,2.49,3.5,4.49,5.49],mecLabels,[777,797,719,1112],25,3,"#222"),

 pts(rnaQuiDense,"4",cSlate,"circle",44,"Quiescent naive T-cells"),
 pts(rnaQuiMid,"4",cSlate,"circle",22,"Quiescent naive T-cells"),
 pts(rnaQui,"4",cSlate,"circle",12,"Quiescent naive T-cells"),
 pts(rnaPoiDense,"4",cYellow,"circle",44,"Poised naive T-cells"),
 pts(rnaPoiMid,"4",cYellow,"circle",22,"Poised naive T-cells"),
 pts(rnaPoi,"4",cYellow,"circle",12,"Poised naive T-cells"),
 cbar("4",[cSlate,cYellow],[.54,1.5],rnaLabels,[1726,1749,723,1101],27,8,"rgba(0,0,0,0)")
];
const tf=s=>({family:"Open Sans",size:s,color:"#2a2a2a"});
function ax(dom,range,tv,tt,anchor,fs){
  return {domain:dom,range:range,tickmode:"array",tickvals:tv,ticktext:tt,ticks:"outside",ticklen:4,tickwidth:1,tickcolor:"#333",
    showgrid:false,zeroline:false,showline:true,linewidth:1.5,linecolor:"#333",mirror:true,anchor:anchor,tickfont:tf(fs)};
}
function note(t,x,y,fam,sz,col,ang,wt){
  const f={family:fam,size:sz,color:col}; if(wt) f.weight=wt;
  return {text:t,xref:"paper",yref:"paper",x:px(x),y:py(y),xanchor:"center",yanchor:"middle",showarrow:false,textangle:ang||0,font:f};
}
const ticks075=[-.75,-.5,-.25,0,.25,.5,.75,1,1.25], t075=["−0.75","−0.50","−0.25","0.00","0.25","0.50","0.75","1.00","1.25"];
const layout={width:W,height:H,margin:{l:0,r:0,t:0,b:0,autoexpand:false},paper_bgcolor:"#fff",plot_bgcolor:"#fff",showlegend:false,
 xaxis: ax([px(367),px(940)],[-.873,1.343],ticks075,t075,"y",17),
 yaxis: ax([py(528),py(156)],[-.987,1.197],[-.75,-.5,-.25,0,.25,.5,.75,1],["−0.75","−0.50","−0.25","0.00","0.25","0.50","0.75","1.00"],"x",17),
 xaxis2:ax([px(1247),px(1774)],[-.88,1.148],[-.75,-.5,-.25,0,.25,.5,.75,1],["−0.75","−0.50","−0.25","0.00","0.25","0.50","0.75","1.00"],"y2",15),
 yaxis2:ax([py(546),py(154)],[-.884,.929],[-.75,-.5,-.25,0,.25,.5,.75],["0.75","0.50","0.25","0.00","0.25","0.50","0.75"],"x2",15),
 xaxis3:ax([px(355),px(775.5)],[-.935,1.114],[-.5,0,.5,1],["−0.5","0.0","0.5","1.0"],"y3",17),
 yaxis3:ax([py(1111),py(719)],[-.906,1.106],[-.75,-.5,-.25,0,.25,.5,.75,1],["−0.75","−0.50","−0.25","0.00","0.25","0.50","0.75","1.00"],"x3",17),
 xaxis4:ax([px(1222.5),px(1725)],[-6.2,7.13],[-6,-4,-2,0,2,4,6],["−6","−4","−2","0","2","4","6"],"y4",15),
 yaxis4:ax([py(1100),py(725)],[-4.76,5.96],[-4,-2,0,2,4],["−4","−2","0","2","4"],"x4",15),
 shapes:[{type:"line",xref:"paper",yref:"paper",x0:px(188.5),x1:px(188.5),y0:py(15),y1:py(1207),line:{color:"#444",width:1.5,dash:"6px,5px"}}],
 annotations:[
  note(sideTitle,93,615,"Open Sans",46.7,"#6d6e71",-90),
  note(panelTitles[0],631,62,"Roboto",35,"#111",0,500),
  note(panelTitles[1],631,105,"Roboto",35,"#111",0,500),
  note(panelTitles[2],1524,59,"Roboto",35,"#111",0,500),
  note(panelTitles[3],1524,103,"Roboto",35,"#111",0,500),
  note(panelTitles[4],572,663,"Roboto",48,"#000",0,500),
  note(panelTitles[5],1499,671,"Roboto",43,"#000",0,500),
  note(xName,631,578,"Open Sans",26.5,"#222"),
  note(xName,1516,584,"Open Sans",26.5,"#222"),
  note(xName,576,1154,"Open Sans",26.5,"#222"),
  note(xName,1495,1143,"Open Sans",26.5,"#222"),
  note(yName,281,340,"DejaVu Sans",25,"#222",-90),
  note(yName,1173,339,"DejaVu Sans",25,"#222",-90),
  note(yName,273,916,"DejaVu Sans",25,"#222",-90),
  note(yName,1175,923,"DejaVu Sans",25,"#222",-90),
  note(cbName,1081,329,"Open Sans",32,"#111",-90),
  note(cbName,1907,346,"Open Sans",34,"#111",-90),
  note(cbName,981,915,"Open Sans",34,"#111",-90),
  note(cbName,1914,898,"Open Sans",41,"#111",-90)
 ]};
Plotly.newPlot("chart",traces,layout,{staticPlot:true,displayModeBar:false});
</script></body></html>
